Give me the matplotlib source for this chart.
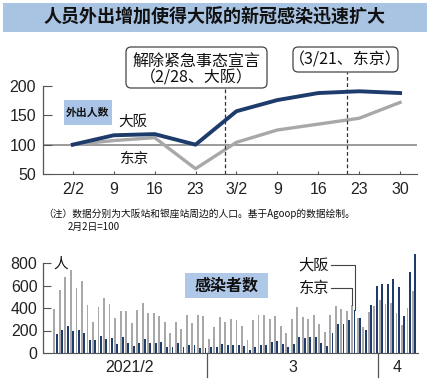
import matplotlib
matplotlib.use("Agg")
import matplotlib.pyplot as plt
import matplotlib.dates as mdates
from matplotlib.patches import Rectangle, FancyBboxPatch
import pandas as pd
import numpy as np

# ---------------- data ----------------
title = "人员外出增加使得大阪的新冠感染迅速扩大"
week_dates = ["2021-02-02", "2021-02-09", "2021-02-16", "2021-02-23", "2021-03-02",
              "2021-03-09", "2021-03-16", "2021-03-23", "2021-03-30"]
week_labels = ["2/2", "9", "16", "23", "3/2", "9", "16", "23", "30"]
osaka_outing = [100, 116, 118, 100, 157, 176, 188, 191, 188]
tokyo_outing = [100, 107, 112, 59, 104, 125, 135, 145, 172]
event_dates = ["2021-02-28", "2021-03-21"]

day_start = "2021-02-01"
day_end = "2021-04-07"
tokyo_cases = [393, 556, 676, 734, 577, 639, 429, 276, 412, 491, 434, 307, 369, 371,
               266, 378, 445, 353, 353, 327, 272, 178, 275, 213, 340, 270, 337, 329,
               121, 232, 316, 279, 301, 293, 237, 116, 290, 340, 335, 304, 330, 239,
               175, 300, 409, 323, 303, 342, 256, 187, 337, 420, 394, 376, 430, 313,
               234, 364, 414,
               475, 440, 446, 355, 249, 399, 555]
osaka_cases = [169, 205, 236, 199, 205, 181, 115, 115, 151, 121, 133, 79, 139, 88,
               62, 92, 121, 85, 85, 100, 56, 54, 88, 56, 70, 72, 48, 42,
               52, 56, 80, 68, 69, 71, 65, 28, 57, 67, 72, 101, 106, 76,
               54, 79, 139, 130, 145, 145, 91, 60, 175, 260, 260, 290, 386, 311,
               205, 423, 592,
               613, 610, 659, 589, 332, 719, 876]
month_labels = ["2021/2", "3", "4"]
month_label_dates = ["2021-02-14 12:00", "2021-03-16 00:00", "2021-04-04 00:00"]
month_breaks = ["2021-02-28 12:00", "2021-03-31 12:00"]
label_date = "2021-03-27"

# ---------------- style ----------------
NAVY = "#1d3c6c"
GRAY = "#a8a8a8"
LBLUE = "#a9c4e6"
CJK = ["Noto Sans CJK SC", "DejaVu Sans"]
NUM = ["Liberation Sans", "Noto Sans CJK SC"]
plt.rcParams['font.family'] = NUM

W, H = 430, 381
fig = plt.figure(figsize=(W / 100, H / 100), dpi=100)
fig.patch.set_facecolor("white")

def fx(x):
    return x / W

def fy(y):
    return 1 - y / H

# title bar
fig.patches.append(Rectangle((fx(3), fy(32)), fx(424), 29 / H, transform=fig.transFigure,
                             facecolor="#a9c3e3", edgecolor="none", zorder=0))
fig.text(fx(215), fy(17.5), title, ha="center", va="center", fontsize=13,
         fontweight="bold", family=CJK, color="#111111")

# ---------------- top chart ----------------
wd = pd.to_datetime(week_dates)
ax1 = fig.add_axes([fx(43), fy(174), fx(374), 88 / H])
x0 = mdates.date2num(wd[0])
x1 = mdates.date2num(wd[-1])
ax1.set_xlim(x0 - 5.1, x1 + 2.9)
ax1.set_ylim(50, 200)
ax1.axhline(100, color="#8a8a8a", lw=1.2, zorder=1)
ax1.plot(wd, tokyo_outing, color=GRAY, lw=2.4, solid_joinstyle="round", zorder=2)
ax1.plot(wd, osaka_outing, color=NAVY, lw=2.8, solid_joinstyle="round", zorder=3)
ax1.set_xticks(wd)
ax1.set_xticklabels(week_labels)
ax1.set_yticks([50, 100, 150, 200])
ax1.tick_params(axis="x", direction="in", length=2.5, width=0.8, pad=6, labelsize=11.5,
                colors="#222222", color="#555555")
ax1.tick_params(axis="y", direction="in", length=6.5, width=0.8, pad=5, labelsize=11.5,
                colors="#222222", color="#555555")
for s in ["top", "right"]:
    ax1.spines[s].set_visible(False)
ax1.spines["left"].set_color("#555555")
ax1.spines["left"].set_linewidth(0.9)
ax1.spines["bottom"].set_color("#555555")
ax1.patch.set_alpha(0)

ed = pd.to_datetime(event_dates)
ax1.axvline(ed[0], ymin=0, ymax=(174 - 88) / 88, ls=(0, (3, 2)), color="#333333",
            lw=0.9, clip_on=False)
ax1.axvline(ed[1], ymin=0, ymax=(174 - 72) / 88, ls=(0, (3, 2)), color="#333333",
            lw=0.9, clip_on=False)

# annotation boxes
fig.patches.append(FancyBboxPatch((fx(126), fy(88)), fx(141), 41 / H,
                                  boxstyle="round,pad=0,rounding_size=0.012",
                                  mutation_aspect=W / H,
                                  transform=fig.transFigure, facecolor="white",
                                  edgecolor="#444444", lw=0.9))
fig.text(fx(196), fy(61), "解除紧急事态宣言", ha="center", va="center", fontsize=11.5,
         family=CJK, color="#111111")
fig.text(fx(196), fy(78), "（2/28、大阪）", ha="center", va="center", fontsize=11.5,
         family=CJK, color="#111111")
fig.patches.append(FancyBboxPatch((fx(293), fy(72)), fx(105), 25 / H,
                                  boxstyle="round,pad=0,rounding_size=0.012",
                                  mutation_aspect=W / H,
                                  transform=fig.transFigure, facecolor="white",
                                  edgecolor="#444444", lw=0.9))
fig.text(fx(345.5), fy(60), "（3/21、东京）", ha="center", va="center", fontsize=11.5,
         family=CJK, color="#111111")

# labels inside top chart
fig.patches.append(Rectangle((fx(64), fy(125)), fx(48), 25 / H, transform=fig.transFigure,
                             facecolor=LBLUE, edgecolor="none"))
fig.text(fx(88), fy(112.5), "外出人数", ha="center", va="center", fontsize=7.8,
         fontweight="bold", family=CJK, color="#111111")
fig.text(fx(133), fy(122), "大阪", ha="center", va="center", fontsize=10.5,
         family=CJK, color="#111111")
fig.text(fx(135), fy(159), "东京", ha="center", va="center", fontsize=10.5,
         family=CJK, color="#111111")

# notes
fig.text(fx(43), fy(214), "（注）数据分别为大阪站和银座站周边的人口。基于Agoop的数据绘制。",
         ha="left", va="center", fontsize=7, family=CJK, color="#111111")
fig.text(fx(68), fy(227), "2月2日=100", ha="left", va="center", fontsize=7,
         family=CJK, color="#111111")

# ---------------- bar chart ----------------
days = pd.date_range(day_start, day_end, freq="D")
dn = mdates.date2num(days)
ax2 = fig.add_axes([fx(43), fy(353), fx(375), 90 / H])
ax2.set_xlim(dn[0] - 2.26, dn[0] + 65.7)
ax2.set_ylim(0, 800)
ax2.bar(dn - 0.2, tokyo_cases, width=0.34, color=GRAY, clip_on=False, zorder=2)
ax2.bar(dn + 0.2, osaka_cases, width=0.34, color=NAVY, clip_on=False, zorder=3)
ax2.set_yticks([0, 200, 400, 600, 800])
ax2.tick_params(axis="y", direction="in", length=6, width=0.8, pad=4, labelsize=11.5,
                colors="#222222", color="#555555")
ax2.set_xticks([])
for s in ["top", "right"]:
    ax2.spines[s].set_visible(False)
ax2.spines["left"].set_color("#555555")
ax2.spines["left"].set_linewidth(0.9)
ax2.spines["bottom"].set_color("#555555")
ax2.patch.set_alpha(0)
fig.text(fx(61), fy(264), "人", ha="center", va="center", fontsize=10.5,
         family=CJK, color="#111111")

trans = ax2.get_xaxis_transform()
for lab, d in zip(month_labels, pd.to_datetime(month_label_dates)):
    ax2.text(mdates.date2num(d), -15 / 90, lab, transform=trans, ha="center",
             va="center", fontsize=11.5, color="#222222")
for d in pd.to_datetime(month_breaks):
    ax2.plot([mdates.date2num(d)] * 2, [0, -24 / 90], transform=trans, color="#555555",
             lw=0.9, clip_on=False)

# case-title box
fig.patches.append(Rectangle((fx(185), fy(298)), fx(83), 25 / H, transform=fig.transFigure,
                             facecolor="#b0c8e8", edgecolor="none"))
fig.text(fx(226.5), fy(286), "感染者数", ha="center", va="center", fontsize=11.5,
         fontweight="bold", family=CJK, color="#111111")

# leader labels
li = list(days).index(pd.Timestamp(label_date))
lx = dn[li]
lab_x = dn[0] + (331 - 55.5) / 5.52
y_osaka = (353 - 265) / 0.1125
y_tokyo = (353 - 288) / 0.1125
ax2.plot([lab_x, lx + 0.2, lx + 0.2], [y_osaka, y_osaka, osaka_cases[li]],
         color="#444444", lw=0.8, clip_on=False, zorder=4)
ax2.plot([lab_x, lx - 0.2, lx - 0.2], [y_tokyo, y_tokyo, tokyo_cases[li]],
         color="#444444", lw=0.8, clip_on=False, zorder=4)
ax2.text(lab_x - 0.3, y_osaka, "大阪", ha="right", va="center", fontsize=11,
         family=CJK, color="#111111")
ax2.text(lab_x - 0.3, y_tokyo, "东京", ha="right", va="center", fontsize=11,
         family=CJK, color="#111111")

fig.savefig("out.png", dpi=100, facecolor="white")
